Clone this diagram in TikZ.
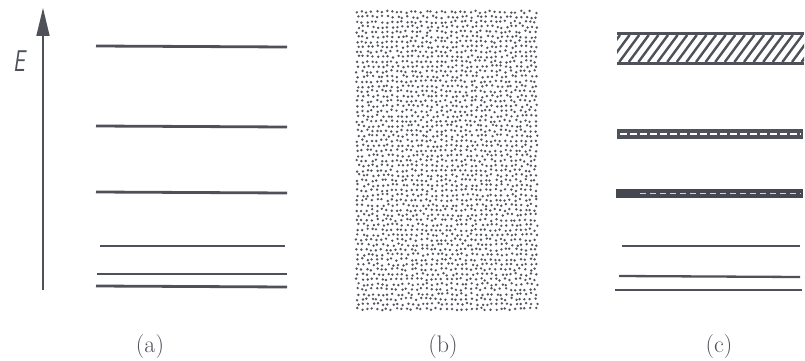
\documentclass[tikz,border=0pt]{standalone}
\usepackage{fontspec}
\usetikzlibrary{arrows.meta}
\definecolor{ink}{RGB}{78,80,90}
\definecolor{dotc}{RGB}{85,87,96}
\tikzset{
  level/.style={draw=ink, line width=2.8pt},
  thinlevel/.style={draw=ink, line width=2.3pt},
  lab/.style={font=\fontsize{24}{28}\selectfont, text=ink, inner sep=0pt},
}
\begin{document}
\begin{tikzpicture}[x=1pt,y=-1pt]
\useasboundingbox (0,0) rectangle (805,361);
% (a)
\coordinate (ab) at (43,290);
\coordinate (at) at (43,8);
\draw[draw=ink, line width=1.7pt, -{Triangle[length=28pt,width=13pt]}] (ab) -- (at);
\node[text=ink, xscale=0.7, font=\fontsize{30}{34}\selectfont\sffamily\itshape, inner sep=0pt] (E) at (19,61) {E};
\draw[level] (96,46) -- (287,47);
\draw[level] (96,126) -- (287,127);
\draw[level] (96,192) -- (287,193);
\draw[thinlevel] (100,246) -- (285,246);
\draw[thinlevel] (97,274) -- (287,274);
\draw[level] (96,286) -- (287,287);
\node[lab] (la) at (150,347) {(a)};
% (b)
\pgfmathsetseed{7}
\foreach \i in {0,...,36}{
  \foreach \j in {0,...,60}{
    \pgfmathsetmacro{\xx}{357+\i*4.95+1.2*rand+1.2*mod(\j,2)}
    \pgfmathsetmacro{\yy}{12+\j*4.95+1.2*rand}
    \fill[dotc] (\xx,\yy) circle (1.35pt);
  }
}
\node[lab] (lb) at (443,347) {(b)};
% (c)
\begin{scope}
  \clip (617,32) rectangle (804,65);
  \foreach \k in {0,...,21}{
    \draw[draw=ink, line width=2.4pt] (600+\k*9.6,62) -- (620+\k*9.6,35);
  }
\end{scope}
\draw[draw=ink, line width=3pt] (617,33.5) -- (804,33.5);
\draw[draw=ink, line width=3pt] (617,63.5) -- (804,63.5);
% dashed band 1
\fill[ink] (617,129) rectangle (803,139);
\draw[white, line width=2.4pt, dash pattern=on 7pt off 3pt] (620,134) -- (801,134);
% dashed band 2
\fill[ink!90!black] (616,189) rectangle (803,198);
\draw[white!75!ink, line width=1.6pt, dash pattern=on 6pt off 4pt] (640,193.5) -- (801,193.5);
\draw[thinlevel] (622,246) -- (800,246);
\draw[thinlevel] (619,276) -- (800,277);
\draw[level] (615,290) -- (802,290);
\node[lab] (lc) at (719,347) {(c)};
\end{tikzpicture}
\end{document}
